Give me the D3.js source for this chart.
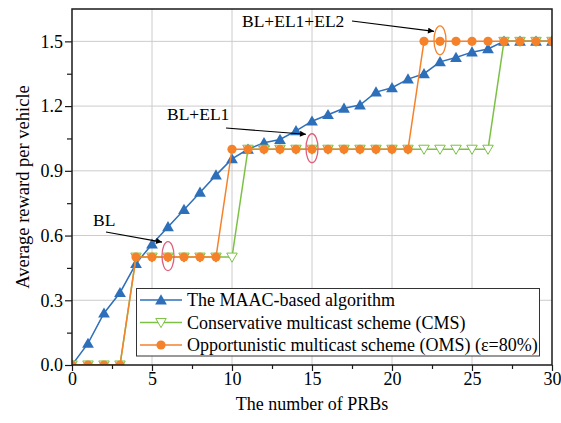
<!DOCTYPE html>
<html><head><meta charset="utf-8">
<script src="https://cdn.jsdelivr.net/npm/d3@7"></script>
<style>
body{margin:0;background:#fff}
svg{display:block}
svg text{font-family:"Times New Roman","Liberation Serif",Tinos,"DejaVu Serif",serif}
</style>
</head><body>
<svg id="chart" width="561" height="423"></svg>
<script>
// Number of PRBs on the x axis
const prbs = d3.range(0, 31);
// Average reward per vehicle for each scheme
const maac = [0, 0.10, 0.24, 0.335, 0.47, 0.56, 0.64, 0.72, 0.80, 0.88, 0.955,
  1.0, 1.03, 1.045, 1.085, 1.13, 1.16, 1.19, 1.205, 1.265, 1.285,
  1.325, 1.35, 1.405, 1.425, 1.45, 1.465, 1.5, 1.5, 1.5, 1.5];
const cms = [0, 0, 0, 0, 0.5, 0.5, 0.5, 0.5, 0.5, 0.5, 0.5,
  1, 1, 1, 1, 1, 1, 1, 1, 1, 1, 1, 1, 1, 1, 1, 1,
  1.5, 1.5, 1.5, 1.5];
const oms = [0, 0, 0, 0, 0.5, 0.5, 0.5, 0.5, 0.5, 0.5,
  1, 1, 1, 1, 1, 1, 1, 1, 1, 1, 1, 1,
  1.5, 1.5, 1.5, 1.5, 1.5, 1.5, 1.5, 1.5, 1.5];
const seriesNames = ["The MAAC-based algorithm", "Conservative multicast scheme (CMS)",
  "Opportunistic multicast scheme (OMS) (\u03b5=80%)"];
const xTicks = [0, 5, 10, 15, 20, 25, 30];
const yTicks = [0, 0.3, 0.6, 0.9, 1.2, 1.5];
// Highlighted layers: label, point it refers to
const layerLabels = ["BL", "BL+EL1", "BL+EL1+EL2"];
const layerPoints = [[6, 0.5], [15, 1.0], [23, 1.5]];

const W = 561, H = 423;
const m = {left: 72, right: 9, top: 9, bottom: 58};
const svg = d3.select("#chart");
const x = d3.scaleLinear().domain([0, 30]).range([m.left, W - m.right]);
const y = d3.scaleLinear().domain([0, 1.65]).range([H - m.bottom, m.top]);

const C = {blue: "#2e6fba", green: "#7cc144", orange: "#f5822b", pink: "#e0607c", grid: "#cccccc", ink: "#1a1a1a"};

const defs = svg.append("defs");
defs.append("clipPath").attr("id", "plot").append("rect")
  .attr("x", x(0)).attr("y", y(1.65)).attr("width", x(30) - x(0)).attr("height", y(0) - y(1.65));
defs.append("marker").attr("id", "arrow").attr("viewBox", "0 0 10 10")
  .attr("refX", 10).attr("refY", 5).attr("markerWidth", 9).attr("markerHeight", 6)
  .attr("markerUnits", "userSpaceOnUse").attr("orient", "auto")
  .append("path").attr("d", "M0,0 L10,5 L0,10 Z").attr("fill", "#000");

// grid
const grid = svg.append("g");
grid.selectAll(".gx").data(xTicks.slice(1, -1)).join("line")
  .attr("x1", d => x(d)).attr("x2", d => x(d)).attr("y1", y(0)).attr("y2", y(1.65))
  .attr("stroke", C.grid).attr("stroke-width", 1);
grid.selectAll(".gy").data(yTicks.slice(1)).join("line")
  .attr("x1", x(0)).attr("x2", x(30)).attr("y1", d => y(d)).attr("y2", d => y(d))
  .attr("stroke", C.grid).attr("stroke-width", 1);

// markers
const triUp = d3.symbol().type(d3.symbolTriangle).size(60);
const triDown = d3.symbol().type(d3.symbolTriangle).size(48);
function drawMarker(g, kind, px, py) {
  if (kind === "up") {
    g.append("path").attr("d", triUp()).attr("transform", `translate(${px},${py + 1})`)
      .attr("fill", C.blue);
  } else if (kind === "down") {
    g.append("path").attr("d", triDown()).attr("transform", `translate(${px},${py - 1}) rotate(180)`)
      .attr("fill", "#fff").attr("stroke", C.green).attr("stroke-width", 1);
  } else {
    g.append("circle").attr("cx", px).attr("cy", py).attr("r", 4.6).attr("fill", C.orange);
  }
}

const series = [
  {vals: maac, color: C.blue, kind: "up"},
  {vals: cms, color: C.green, kind: "down"},
  {vals: oms, color: C.orange, kind: "circle"}
];
const plot = svg.append("g").attr("clip-path", "url(#plot)");
const line = d3.line().x((d, i) => x(prbs[i])).y(d => y(d));
series.forEach(s => {
  const g = plot.append("g");
  g.append("path").datum(s.vals).attr("d", line).attr("fill", "none")
    .attr("stroke", s.color).attr("stroke-width", 1.5);
  s.vals.forEach((v, i) => drawMarker(g, s.kind, x(prbs[i]), y(v)));
});

// layer annotations
const ellColors = [C.pink, C.pink, C.orange];
layerPoints.forEach((p, i) => {
  svg.append("ellipse").attr("cx", x(p[0])).attr("cy", y(p[1]) - 1).attr("rx", 6).attr("ry", 14.5)
    .attr("fill", "none").attr("stroke", ellColors[i]).attr("stroke-width", 1.3);
});
const labelPos = [[93, 226], [167, 120], [242, 27]];
const arrowFrom = [[106, 232], [226, 128], [352, 21]];
layerLabels.forEach((t, i) => {
  svg.append("text").attr("x", labelPos[i][0]).attr("y", labelPos[i][1])
    .attr("font-size", 17.5).attr("fill", "#000").text(t);
  const [px, py] = layerPoints[i];
  svg.append("line").attr("x1", arrowFrom[i][0]).attr("y1", arrowFrom[i][1])
    .attr("x2", x(px) - 6).attr("y2", y(py) - 15 + (i === 2 ? 5 : 0))
    .attr("stroke", "#000").attr("stroke-width", 1.1).attr("marker-end", "url(#arrow)");
});

// axes
const xAxis = svg.append("g").attr("transform", `translate(0,${y(0)})`);
xAxis.call(d3.axisBottom(x).tickValues(d3.range(0, 30.1, 2.5)).tickSize(6).tickFormat(d => d % 5 === 0 ? d : ""))
  .call(g => g.select(".domain").remove());
xAxis.attr("font-family", null);
xAxis.selectAll(".tick line").attr("stroke", C.ink).attr("stroke-width", 1.2)
  .attr("y2", d => d % 5 === 0 ? 6 : 4);
xAxis.selectAll(".tick text").attr("font-size", 18)
  .attr("fill", "#000").attr("dy", "0.71em").attr("y", 7);

const yAxis = svg.append("g").attr("transform", `translate(${x(0)},0)`);
yAxis.call(d3.axisLeft(y).tickValues(d3.range(0, 1.6, 0.15)).tickSize(7)
  .tickFormat(d => Math.round(d * 100) % 30 === 0 ? d3.format(".1f")(d) : ""))
  .call(g => g.select(".domain").remove());
yAxis.attr("font-family", null);
yAxis.selectAll(".tick line").attr("stroke", C.ink).attr("stroke-width", 1.2)
  .attr("x2", d => Math.round(d * 100) % 30 === 0 ? -7 : -5);
yAxis.selectAll(".tick text").attr("font-size", 18)
  .attr("fill", "#000").attr("x", -9);

// frame
svg.append("rect").attr("x", x(0)).attr("y", y(1.65)).attr("width", x(30) - x(0)).attr("height", y(0) - y(1.65))
  .attr("fill", "none").attr("stroke", C.ink).attr("stroke-width", 1.5);

// axis titles
svg.append("text").attr("x", (x(0) + x(30)) / 2).attr("y", 410).attr("text-anchor", "middle")
  .attr("font-size", 18).text("The number of PRBs");
svg.append("text").attr("transform", `translate(29,${(y(0) + y(1.65)) / 2}) rotate(-90)`)
  .attr("text-anchor", "middle").attr("font-size", 18.5).text("Average reward per vehicle");

// legend
const leg = svg.append("g");
leg.append("rect").attr("x", 136.5).attr("y", 288.5).attr("width", 403).attr("height", 67.5)
  .attr("fill", "#fff").attr("stroke", "#333").attr("stroke-width", 1);
series.forEach((s, i) => {
  const ly = 300 + i * 22.5;
  leg.append("line").attr("x1", 140).attr("x2", 182).attr("y1", ly).attr("y2", ly)
    .attr("stroke", s.color).attr("stroke-width", 1.5);
  drawMarker(leg, s.kind, 161, ly);
  leg.append("text").attr("x", 187).attr("y", ly + 6).attr("font-size", 18).text(seriesNames[i]);
});
</script>
</body></html>
